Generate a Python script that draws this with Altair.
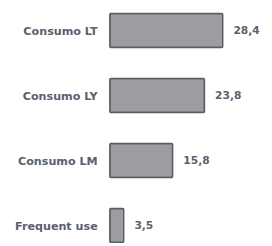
import altair as alt
import pandas as pd

categories = ["Consumo LT", "Consumo LY", "Consumo LM", "Frequent use"]
values = [28.4, 23.8, 15.8, 3.5]

df = pd.DataFrame({"cat": categories, "v": values})

y_enc = alt.Y(
    "cat:N",
    sort=categories,
    scale=alt.Scale(paddingInner=0.478, paddingOuter=0),
    axis=alt.Axis(
        title=None, ticks=False, domain=False, labelPadding=13,
        labelFont="DejaVu Sans", labelFontSize=11.5, labelFontWeight="bold",
        labelColor="#5a6070", labelOffset=2,
    ),
)
x_enc = alt.X("v:Q", scale=alt.Scale(domain=[0, 30]), axis=None)

bars = alt.Chart(df).mark_bar(
    color="#9c9da0", stroke="#5c5d60", strokeWidth=1.5, cornerRadius=1
).encode(x=x_enc, y=y_enc)

labels = alt.Chart(df).transform_calculate(
    lab="replace(format(datum.v, '.1f'), '.', ',')"
).mark_text(
    align="left", baseline="middle", dx=11, dy=1,
    font="DejaVu Sans", fontSize=11, fontWeight="bold", color="#5a6070"
).encode(x=x_enc, y=y_enc, text="lab:N")

chart = (bars + labels).properties(
    width=123, height=236,
    autosize=alt.AutoSizeParams(type="none"),
    padding={"left": 105, "top": 2, "right": 36, "bottom": 0},
).configure_view(stroke=None)

chart.save("out.html", embed_options={"renderer": "svg", "actions": False})
